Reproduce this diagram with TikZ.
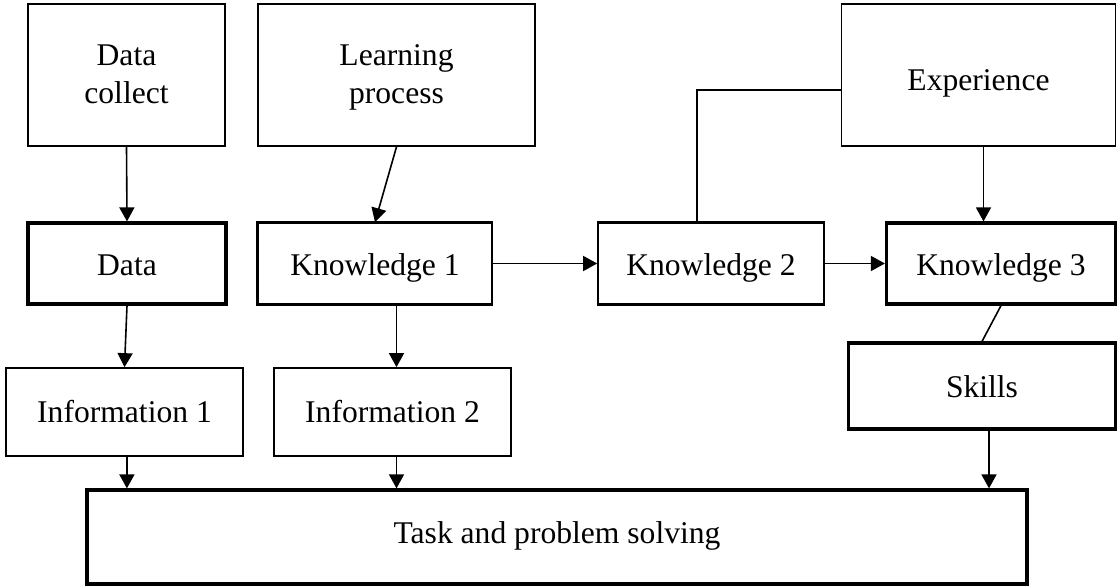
\documentclass[tikz,border=0pt]{standalone}
\usepackage{fontspec}
\setmainfont{Liberation Serif}
\usetikzlibrary{arrows.meta,calc}
\begin{document}
\begin{tikzpicture}[x=0.5pt,y=-0.5pt,
  box/.style={draw,line width=0.85pt,inner sep=0pt,align=center,text height=12pt,text depth=3.5pt,font=\fontsize{15.8}{19}\selectfont},
  thickbox/.style={box,line width=1.6pt},
  thickline/.style={line width=1.6pt},
  arr/.style={line width=0.8pt,-{Triangle[length=7pt,width=7.5pt]}},
  link/.style={line width=0.8pt}]
\useasboundingbox (0,0) rectangle (1118,587);
% top row
\node[box,minimum width=98.5pt,minimum height=71pt,text height=32pt] (dc) at (126.5,75) {Data\\collect};
\node[box,minimum width=138.5pt,minimum height=71pt,text height=32pt] (lp) at (396.5,75) {Learning\\process};
\node[box,minimum width=137pt,minimum height=71pt,text height=19.5pt] (ex) at (978.5,75) {Experience};
% middle row
\node[thickbox,minimum width=99pt,minimum height=40.5pt,text height=16pt] (data) at (127,263.5) {Data};
\node[box,minimum width=117pt,minimum height=40.5pt,text height=16pt] (k1) at (375,263.5) {Knowledge 1};
\draw[thickline] (k1.north east) -- (k1.north west) -- (k1.south west) -- (k1.south east);
\node[box,minimum width=113pt,minimum height=40.5pt,text height=16pt] (k2) at (711,263.5) {Knowledge 2};
\draw[thickline] (k2.north west) -- (k2.north east);
\draw[thickline] (k2.south west) -- (k2.south east);
\node[thickbox,minimum width=114.5pt,minimum height=40.5pt,text height=16pt] (k3) at (1001,263.5) {Knowledge 3};
% lower row
\node[box,minimum width=118.5pt,minimum height=44pt,text height=14pt] (i1) at (124.5,412) {Information 1};
\node[box,minimum width=118.5pt,minimum height=44pt,text height=14pt] (i2) at (392.5,412) {Information 2};
\node[thickbox,minimum width=133.5pt,minimum height=43pt,text height=15pt] (sk) at (982,386) {Skills};
\node[thickbox,minimum width=470pt,minimum height=47pt,text height=10pt] (task) at (557,537) {Task and problem solving};
% connectors
\draw[arr] (dc.south) -- (data.north);
\draw[arr] (lp.south) -- (k1.north);
\draw[arr] (data.south) -- (i1.north);
\draw[arr] (k1.south -| lp.south) -- (i2.north -| lp.south);
\draw[arr] (k1.east) -- (k2.west);
\draw[arr] (k2.east) -- (k3.west);
\draw[arr] ([xshift=2.5pt]ex.south) -- ([xshift=2.5pt]ex.south |- k3.north);
\draw[link] ([yshift=-7.5pt]ex.west) -| ([xshift=-7pt]k2.north);
\draw[link] (k3.south) -- (sk.north);
\draw[arr] ([xshift=1.2pt]i1.south) -- ([xshift=1.2pt]i1.south |- task.north);
\draw[arr] ([xshift=2pt]i2.south) -- ([xshift=2pt]i2.south |- task.north);
\draw[arr] ([xshift=3.5pt]sk.south) -- ([xshift=3.5pt]sk.south |- task.north);
\end{tikzpicture}
\end{document}
